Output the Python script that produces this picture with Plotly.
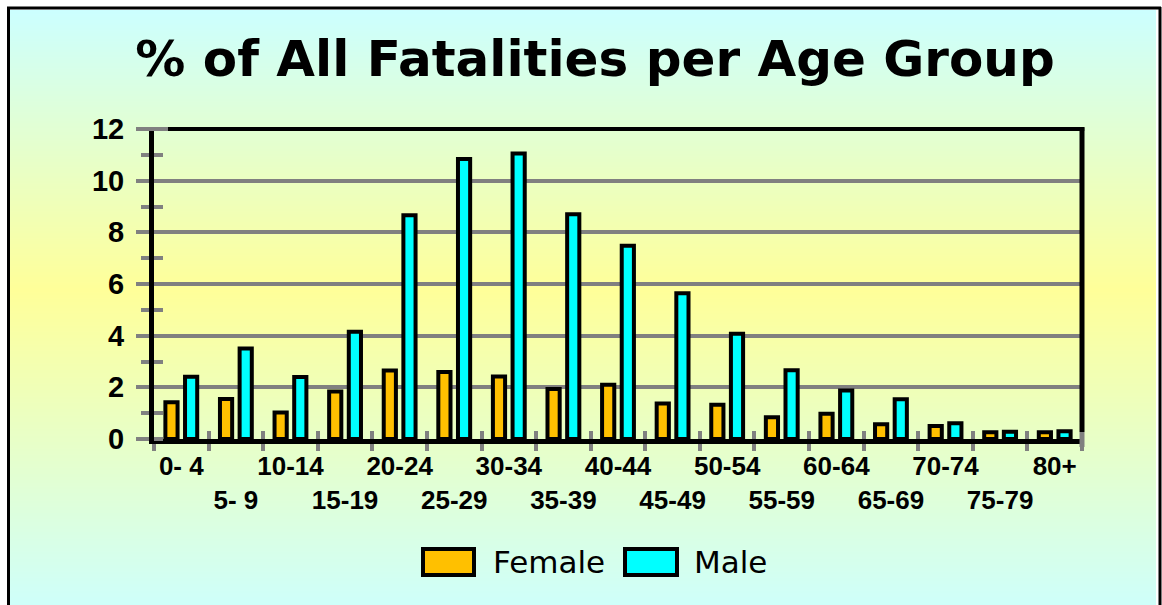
import base64
import struct
import zlib

import plotly.graph_objects as go

# ---------------- data ----------------
age_groups = ["0- 4", "5- 9", "10-14", "15-19", "20-24", "25-29", "30-34", "35-39",
              "40-44", "45-49", "50-54", "55-59", "60-64", "65-69", "70-74", "75-79", "80+"]
female = [1.42, 1.55, 1.03, 1.84, 2.65, 2.59, 2.42, 1.94, 2.10, 1.37, 1.33, 0.84,
          0.98, 0.57, 0.50, 0.26, 0.26]
male = [2.41, 3.50, 2.40, 4.15, 8.66, 10.84, 11.05, 8.70, 7.48, 5.64, 4.07, 2.66,
        1.88, 1.54, 0.61, 0.28, 0.30]
series_names = ["Female", "Male"]
series_colors = ["#FFC000", "#00FFFF"]
y_ticks = [0, 2, 4, 6, 8, 10, 12]
title_text = "% of All Fatalities per Age Group"

# ---------------- layout geometry ----------------
W, H = 1162, 605
ML, MR, MT, MB = 154, 80, 129, 166
PW = W - ML - MR
PH = H - MT - MB


def xp(px):
    return (px - ML) / PW


def yp(py):
    return (H - MB - py) / PH


# ---------------- background gradient image ----------------
def gradient_uri(top, mid, bottom, y_start, y_mid, y_end):
    rows = []
    for py in range(y_start, y_end):
        if py <= y_mid:
            t = (py - y_start) / (y_mid - y_start)
            a, b = top, mid
        else:
            t = (y_end - py) / (y_end - y_mid)
            a, b = bottom, mid
        c = tuple(int(round(a[i] + (b[i] - a[i]) * t)) for i in range(3))
        rows.append(c)
    w = 4
    raw = b"".join(b"\x00" + bytes(c) * w for c in rows)

    def chunk(tag, data):
        return (struct.pack(">I", len(data)) + tag + data
                + struct.pack(">I", zlib.crc32(tag + data) & 0xffffffff))

    png = (b"\x89PNG\r\n\x1a\n"
           + chunk(b"IHDR", struct.pack(">IIBBBBB", w, len(rows), 8, 2, 0, 0, 0))
           + chunk(b"IDAT", zlib.compress(raw))
           + chunk(b"IEND", b""))
    return "data:image/png;base64," + base64.b64encode(png).decode()


bg_uri = gradient_uri((204, 255, 255), (255, 255, 153), (204, 255, 255), 10, 285, 610)

# ---------------- figure ----------------
fig = go.Figure()
for name, vals, col in zip(series_names, [female, male], series_colors):
    fig.add_trace(go.Bar(
        x=age_groups, y=vals, name=name,
        marker=dict(color=col, line=dict(color="black", width=4)),
        showlegend=False,
    ))
# empty helper trace so the overlay axes (inner tick marks) are drawn
fig.add_trace(go.Scatter(x=[], y=[], xaxis="x2", yaxis="y2", showlegend=False,
                         hoverinfo="skip"))

ticktext = [("<br>" + g if i % 2 else g).replace(" ", "\u00a0") for i, g in enumerate(age_groups)]

shapes = []
# outer frame
shapes.append(dict(type="line", xref="paper", yref="paper", x0=xp(8.5), x1=xp(8.5),
                   y0=yp(7), y1=yp(620), line=dict(color="black", width=3)))
shapes.append(dict(type="line", xref="paper", yref="paper", x0=xp(7), x1=xp(1161),
                   y0=yp(8), y1=yp(8), line=dict(color="black", width=3)))
shapes.append(dict(type="line", xref="paper", yref="paper", x0=xp(1160), x1=xp(1160),
                   y0=yp(7), y1=yp(620), line=dict(color="black", width=3)))
# plot top and right border (3D-like offset)
shapes.append(dict(type="line", xref="paper", yref="paper", x0=xp(141), x1=xp(168),
                   y0=1, y1=1, line=dict(color="#808080", width=4)))
shapes.append(dict(type="line", xref="paper", yref="paper", x0=xp(168), x1=1.0025,
                   y0=1, y1=1, line=dict(color="black", width=4)))
shapes.append(dict(type="line", xref="paper", yref="paper", x0=1, x1=1,
                   y0=yp(432), y1=1.006, line=dict(color="black", width=5)))
shapes.append(dict(type="line", xref="paper", yref="paper", x0=1, x1=1,
                   y0=yp(447), y1=yp(432), line=dict(color="#808080", width=5)))

# legend boxes
annotations = []
legend_boxes = [(423, 474, 491), (625, 677, 692)]
for (bx0, bx1, tx), name, col in zip(legend_boxes, series_names, series_colors):
    shapes.append(dict(type="rect", xref="paper", yref="paper",
                       x0=xp(bx0), x1=xp(bx1), y0=yp(575), y1=yp(549),
                       fillcolor=col, line=dict(color="black", width=4)))
    annotations.append(dict(xref="paper", yref="paper", x=xp(tx), y=yp(562),
                            xanchor="left", yanchor="middle", showarrow=False,
                            text=name, font=dict(family="DejaVu Sans", size=31, color="black")))

n_cat = len(age_groups)
fig.update_layout(
    width=W, height=H,
    margin=dict(l=ML, r=MR, t=MT, b=MB),
    paper_bgcolor="white",
    plot_bgcolor="rgba(0,0,0,0)",
    barmode="group",
    bargap=0.28,
    bargroupgap=0.38,
    title=dict(text="<b>" + title_text + "</b>", x=595 / W, xanchor="center",
               y=1 - 58 / H, yanchor="middle", yref="container",
               font=dict(family="DejaVu Sans", size=50, color="black")),
    xaxis=dict(
        type="category",
        tickvals=age_groups, ticktext=ticktext,
        tickson="boundaries",
        ticks="outside", ticklen=7, tickwidth=4, tickcolor="#808080",
        showline=True, linecolor="black", linewidth=5,
        showgrid=False,
        tickfont=dict(family="Liberation Sans", size=26, color="black", weight="bold"),
        tickangle=0,
    ),
    xaxis2=dict(
        overlaying="x", anchor="y2", range=[0, n_cat],
        tickvals=list(range(n_cat + 1)), showticklabels=False,
        ticks="inside", ticklen=8, tickwidth=4, tickcolor="#808080",
        showline=False, showgrid=False, zeroline=False,
    ),
    yaxis=dict(
        range=[0, 12],
        tickvals=y_ticks,
        ticks="outside", ticklen=13, tickwidth=4, tickcolor="#808080",
        showline=True, linecolor="black", linewidth=5,
        showgrid=True, gridcolor="#808080", gridwidth=4,
        zeroline=False,
        minor=dict(dtick=1, ticks="outside", ticklen=8, tickwidth=4, tickcolor="#808080",
                   showgrid=False),
        tickfont=dict(family="Liberation Sans", size=29, color="black", weight="bold"),
        ticklabelstandoff=6,
    ),
    yaxis2=dict(
        overlaying="y", anchor="x2", side="left", range=[0, 12],
        tickvals=y_ticks, showticklabels=False, ticks="",
        showline=False, showgrid=False, zeroline=False,
        minor=dict(dtick=1, ticks="inside", ticklen=9, tickwidth=4, tickcolor="#808080",
                   showgrid=False),
    ),
    images=[dict(source=bg_uri, xref="paper", yref="paper", x=xp(10), y=yp(10),
                 sizex=(1156 - 10) / PW, sizey=(620 - 10) / PH, sizing="stretch",
                 xanchor="left", yanchor="top", layer="below")],
    shapes=shapes,
    annotations=annotations,
)

fig.write_html("out.html", config={"displayModeBar": False},
               post_script="document.body.style.margin='0';")
